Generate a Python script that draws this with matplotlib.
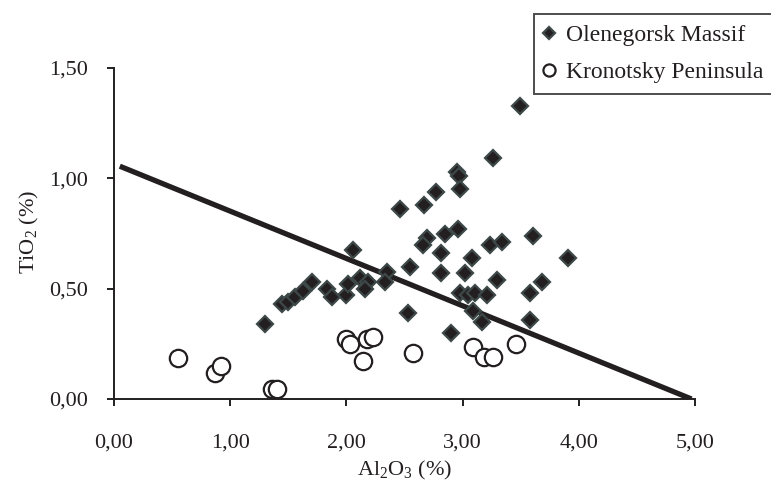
import matplotlib
matplotlib.use("Agg")
import matplotlib.pyplot as plt
from matplotlib.ticker import FixedLocator, FuncFormatter

plt.rcParams['font.family'] = ['Liberation Serif', 'DejaVu Serif']
plt.rcParams['mathtext.fontset'] = 'custom'
plt.rcParams['mathtext.rm'] = 'Liberation Serif'
plt.rcParams['mathtext.it'] = 'Liberation Serif:italic'

# Olenegorsk Massif (Al2O3 %, TiO2 %)
oleno_al = [3.49, 3.26, 2.95, 2.97, 2.98, 2.77, 2.46, 2.67, 2.69, 2.66,
            2.85, 2.96, 2.81, 3.08, 3.24, 3.34, 3.61, 2.35, 2.33, 2.55,
            2.81, 3.02, 3.30, 3.68, 3.58, 2.98, 3.05, 3.11, 3.21, 3.09,
            3.17, 3.58, 2.90, 3.91, 2.53, 2.06, 1.30, 1.45, 1.50, 1.56,
            1.63, 1.70, 1.83, 1.88, 2.00, 2.01, 2.12, 2.19, 2.16]
oleno_ti = [1.33, 1.09, 1.03, 1.01, 0.95, 0.94, 0.86, 0.88, 0.73, 0.70,
            0.75, 0.77, 0.66, 0.64, 0.70, 0.71, 0.74, 0.575, 0.53, 0.60,
            0.57, 0.57, 0.54, 0.53, 0.48, 0.48, 0.47, 0.48, 0.47, 0.40,
            0.35, 0.36, 0.30, 0.64, 0.39, 0.675, 0.34, 0.43, 0.44, 0.46,
            0.49, 0.53, 0.50, 0.46, 0.47, 0.52, 0.55, 0.53, 0.50]

# Kronotsky Peninsula
krono_al = [0.55, 0.87, 0.92, 1.36, 1.40, 2.00, 2.03, 2.18, 2.23, 2.14,
            2.57, 3.09, 3.18, 3.26, 3.46]
krono_ti = [0.185, 0.12, 0.15, 0.045, 0.045, 0.27, 0.25, 0.27, 0.28, 0.17,
            0.21, 0.235, 0.19, 0.19, 0.25]

# Discriminant line
line_al = [0.05, 4.97]
line_ti = [1.055, 0.0]

x_ticks = [0, 1, 2, 3, 4, 5]
y_ticks = [0.0, 0.5, 1.0, 1.5]

fig = plt.figure(figsize=(7.71, 5.01), dpi=100)
ax = fig.add_axes([114/771, 1-399/501, 581/771, 331/501])

dark = '#231f20'
ax.plot(line_al, line_ti, color=dark, lw=3.8, solid_capstyle='butt', zorder=3)
ax.plot(oleno_al, oleno_ti, ls='none', marker='D', ms=8.5, mfc=dark,
        mec='#3d4848', mew=1.6, label='Olenegorsk Massif', zorder=4)
ax.plot(krono_al, krono_ti, ls='none', marker='o', ms=12.5, mfc='white',
        mec=dark, mew=1.6, label='Kronotsky Peninsula', zorder=2)

ax.set_xlim(0, 5)
ax.set_ylim(0, 1.5)
ax.xaxis.set_major_locator(FixedLocator(x_ticks))
ax.yaxis.set_major_locator(FixedLocator(y_ticks))
fmt = FuncFormatter(lambda v, p: f"{v:.2f}".replace('.', ','))
ax.xaxis.set_major_formatter(fmt)
ax.yaxis.set_major_formatter(fmt)
for s in ['top', 'right']:
    ax.spines[s].set_visible(False)
for s in ['left', 'bottom']:
    ax.spines[s].set_linewidth(1.4)
    ax.spines[s].set_color(dark)
ax.tick_params(direction='out', length=5, width=1.4, color=dark,
               labelsize=16, labelcolor=dark)
ax.tick_params(axis='x', pad=20)
ax.tick_params(axis='y', pad=14)

ax.set_xlabel('Al$_2$O$_3$ (%)', fontsize=16, color=dark, va='center')
ax.xaxis.set_label_coords(0.501, -0.215)
ax.set_ylabel('TiO$_2$ (%)', fontsize=16, color=dark, va='center')
ax.yaxis.set_label_coords(-0.145, 0.505)

leg = fig.legend(loc='upper left', bbox_to_anchor=(534/771, 1-14/501),
                 fontsize=17, frameon=True, fancybox=False, shadow=False,
                 borderpad=0.45, handlelength=0.37, handletextpad=0.53,
                 labelspacing=0.66, markerscale=0.7, borderaxespad=0)
leg.get_frame().set_edgecolor(dark)
leg.get_frame().set_linewidth(1.4)
for t in leg.get_texts():
    t.set_color(dark)

fig.savefig('out.png', dpi=100)
